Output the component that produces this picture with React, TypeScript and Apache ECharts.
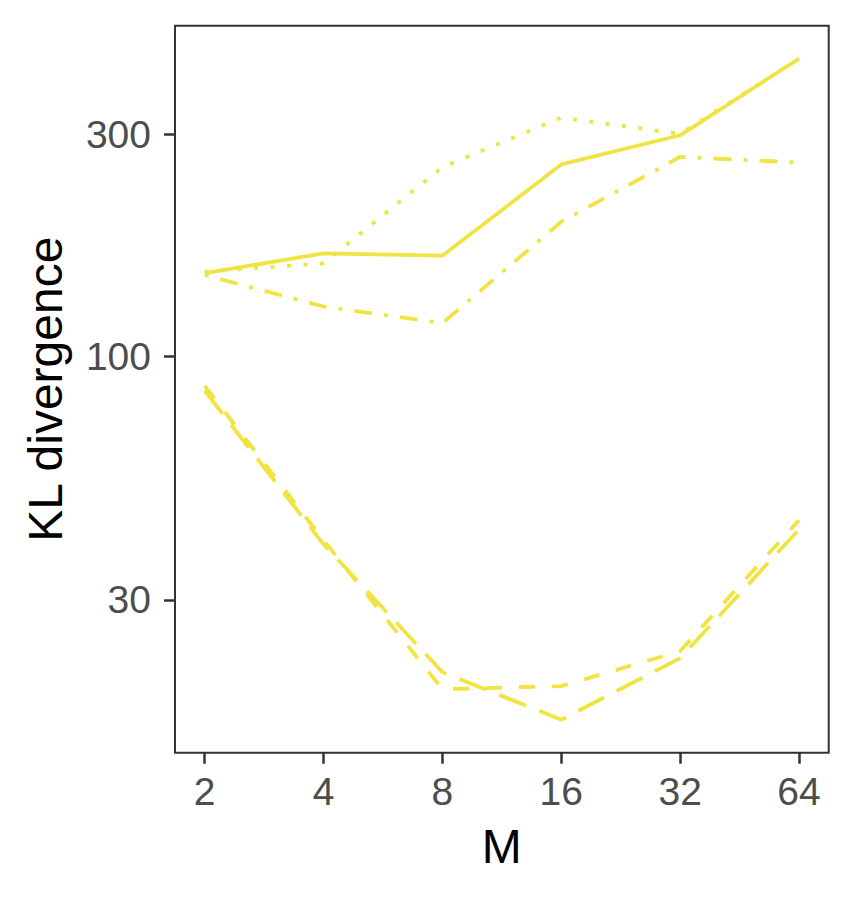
import React, { useEffect, useRef } from "react";
import * as echarts from "echarts";

// M values (x axis, log2 scale)
const mValues = [2, 4, 8, 16, 32, 64];
// Tick labels
const yTickValues = [30, 100, 300];

// KL divergence per line type
const solidLine = [150.9, 166.5, 164.6, 258.4, 298.5, 435.8];
const dottedLine = [152.1, 158.5, 254.9, 325.7, 300.5, 435.8];
const dotDashLine = [149.6, 128.0, 117.9, 194.6, 268.2, 260.9];
const dashedLine = [86.5, 40.3, 19.3, 19.6, 23.3, 44.5];
const longDashLine = [84.4, 39.5, 21.0, 16.6, 22.5, 42.5];

const LINE_COLOR = "#F0E442";
const FONT = "'Liberation Sans', Arial, Helvetica, sans-serif";

export default function App() {
  const ref = useRef<HTMLDivElement>(null);

  useEffect(() => {
    document.body.style.margin = "0";
    if (!ref.current) return;
    const chart = echarts.init(ref.current, undefined, { renderer: "svg" });

    const xs = mValues.map((m) => Math.log2(m));
    const toData = (vals: number[]) => xs.map((x, i) => [x, Math.log10(vals[i])]);

    const all = [solidLine, dottedLine, dotDashLine, dashedLine, longDashLine].flat().map((v) => Math.log10(v));
    const yLo = Math.min(...all);
    const yHi = Math.max(...all);
    const yPad = (yHi - yLo) * 0.05;
    const xLo = Math.min(...xs);
    const xHi = Math.max(...xs);
    const xPad = (xHi - xLo) * 0.05;

    const mk = (name: string, vals: number[], type: any) => ({
      name,
      type: "line",
      data: toData(vals),
      symbol: "none",
      silent: true,
      lineStyle: { color: LINE_COLOR, width: 3.8, type, cap: "butt" },
      itemStyle: { color: LINE_COLOR },
    });

    chart.setOption({
      animation: false,
      textStyle: { fontFamily: FONT },
      grid: {
        left: 175,
        right: 26.3,
        top: 25.7,
        bottom: 147.3,
        show: true,
        borderColor: "#333333",
        borderWidth: 2,
        backgroundColor: "#ffffff",
      },
      xAxis: {
        type: "value",
        min: xLo - xPad,
        max: xHi + xPad,
        name: "M",
        nameLocation: "middle",
        nameGap: 93.5,
        nameTextStyle: {
          fontSize: 48,
          color: "#000000",
          fontFamily: FONT,
          align: "center",
          verticalAlign: "middle",
        },
        axisLine: { show: false },
        splitLine: { show: false },
        axisTick: {
          show: true,
          length: 11,
          lineStyle: { color: "#333333", width: 2.5 },
          customValues: xs,
        },
        axisLabel: {
          show: true,
          customValues: xs,
          margin: 19,
          fontSize: 39,
          color: "#4D4D4D",
          fontFamily: FONT,
          formatter: (v: number) => String(Math.round(Math.pow(2, v))),
        },
      },
      yAxis: {
        type: "value",
        min: yLo - yPad,
        max: yHi + yPad,
        name: "KL divergence",
        nameLocation: "middle",
        nameGap: 130,
        nameRotate: 90,
        nameTextStyle: {
          fontSize: 48,
          color: "#000000",
          fontFamily: FONT,
          align: "center",
          verticalAlign: "middle",
        },
        axisLine: { show: false },
        splitLine: { show: false },
        axisTick: {
          show: true,
          length: 11,
          lineStyle: { color: "#333333", width: 2.5 },
          customValues: yTickValues.map((v) => Math.log10(v)),
        },
        axisLabel: {
          show: true,
          customValues: yTickValues.map((v) => Math.log10(v)),
          margin: 24,
          fontSize: 39,
          color: "#4D4D4D",
          fontFamily: FONT,
          formatter: (v: number) => String(Math.round(Math.pow(10, v))),
        },
      },
      series: [
        mk("solid", solidLine, "solid"),
        mk("dotted", dottedLine, [4, 12.5]),
        mk("dotdash", dotDashLine, [4, 12, 18, 12]),
        mk("dashed", dashedLine, [16, 17]),
        mk("longdash", longDashLine, [29, 14]),
      ],
    });

    return () => chart.dispose();
  }, []);

  return <div ref={ref} style={{ width: 855, height: 900 }} />;
}
